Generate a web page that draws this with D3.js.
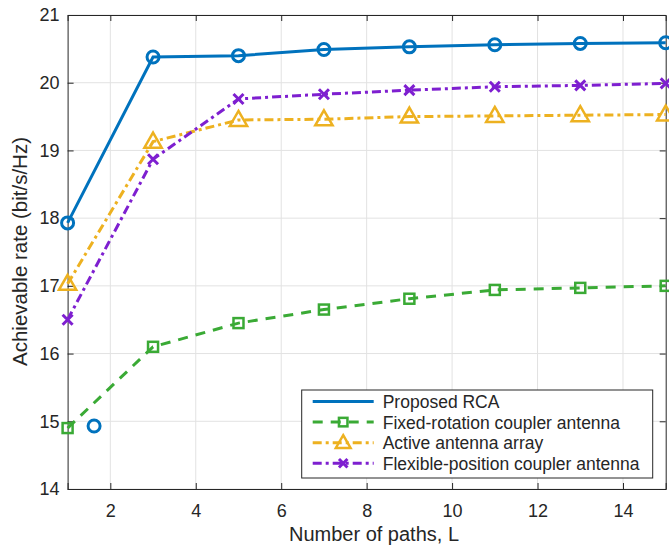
<!DOCTYPE html>
<html>
<head>
<meta charset="utf-8">
<script src="https://cdn.jsdelivr.net/npm/d3@7"></script>
<style>
  body { margin: 0; background: #fff; }
  text { font-family: "Liberation Sans", Arial, sans-serif; fill: #262626; }
</style>
</head>
<body>
<div id="chart"></div>
<script>
var paths = [1, 3, 5, 7, 9, 11, 13, 15];
var proposedRCA = [17.93, 20.38, 20.40, 20.49, 20.53, 20.56, 20.58, 20.59];
var fixedRotation = [14.90, 16.10, 16.45, 16.65, 16.81, 16.94, 16.97, 17.00];
var activeArray = [17.03, 19.13, 19.45, 19.46, 19.50, 19.51, 19.52, 19.53];
var flexiblePosition = [16.50, 18.87, 19.76, 19.83, 19.89, 19.94, 19.96, 19.99];
// stray marker of the first series sitting by itself
var strayPoint = [{x: 1.62, y: 14.93}];
var xTicks = [2, 4, 6, 8, 10, 12, 14];
var yTicks = [14, 15, 16, 17, 18, 19, 20, 21];

var series = [
  {name: "Proposed RCA", values: proposedRCA, color: "#0072BD", dash: null, marker: "circle", legendMarker: false},
  {name: "Fixed-rotation coupler antenna", values: fixedRotation, color: "#3AAA35", dash: "10,8", marker: "square", legendMarker: true},
  {name: "Active antenna array", values: activeArray, color: "#EDB120", dash: "9,4,3,4", marker: "triangle", legendMarker: true},
  {name: "Flexible-position coupler antenna", values: flexiblePosition, color: "#7E1FD0", dash: "9,4,3,4", marker: "cross", legendMarker: true}
];

var w = 669, h = 545;
var margin = {top: 15, right: 3, bottom: 56, left: 67.6};
var width = 665.7 - margin.left;
var height = 489 - margin.top;

var svg = d3.select("#chart").append("svg")
  .attr("width", w)
  .attr("height", h)
  .append("g")
  .attr("transform", "translate(" + margin.left + "," + margin.top + ")");

var x = d3.scaleLinear().domain([1, 15]).range([0, width]);
var y = d3.scaleLinear().domain([14, 21]).range([height, 0]);

// grid
svg.append("g").selectAll("line").data(xTicks).enter().append("line")
  .attr("x1", d => x(d)).attr("x2", d => x(d))
  .attr("y1", 0).attr("y2", height)
  .attr("stroke", "#e2e2e2").attr("stroke-width", 1);
svg.append("g").selectAll("line").data(yTicks).enter().append("line")
  .attr("x1", 0).attr("x2", width)
  .attr("y1", d => y(d)).attr("y2", d => y(d))
  .attr("stroke", "#e2e2e2").attr("stroke-width", 1);

// axes
svg.append("g")
  .attr("transform", "translate(0," + height + ")")
  .call(d3.axisBottom(x).tickValues(xTicks).tickSize(-6).tickPadding(15).tickFormat(d3.format("d")));
svg.append("g")
  .call(d3.axisLeft(y).tickValues(yTicks).tickSize(-6).tickPadding(8).tickFormat(d3.format("d")));
svg.append("g")
  .call(d3.axisTop(x).tickValues(xTicks).tickSize(-6).tickFormat(""));
svg.append("g")
  .attr("transform", "translate(" + width + ",0)")
  .call(d3.axisRight(y).tickValues(yTicks).tickSize(-6).tickFormat(""));
svg.selectAll(".domain").attr("stroke", "#262626").attr("stroke-width", 1);
svg.selectAll(".tick line").attr("stroke", "#262626");
svg.selectAll(".tick text").style("font-size", "18px")
  .style("font-family", "Liberation Sans, Arial, sans-serif").attr("fill", "#262626");

// labels
svg.append("text")
  .attr("x", 374 - margin.left).attr("y", 541 - margin.top)
  .attr("text-anchor", "middle")
  .style("font-size", "20px")
  .text("Number of paths, L");
svg.append("text")
  .attr("transform", "translate(" + (27 - margin.left) + "," + (251.5 - margin.top) + ") rotate(-90)")
  .attr("text-anchor", "middle")
  .style("font-size", "20.5px")
  .text("Achievable rate (bit/s/Hz)");

function drawMarker(g, type, color, cx, cy, sc) {
  sc = sc || 1;
  if (type == "circle") {
    g.append("circle").attr("cx", cx).attr("cy", cy).attr("r", 6 * sc)
      .attr("fill", "none").attr("stroke", color).attr("stroke-width", 3);
  } else if (type == "square") {
    g.append("rect").attr("x", cx - 5 * sc).attr("y", cy - 5 * sc).attr("width", 10 * sc).attr("height", 10 * sc)
      .attr("fill", "none").attr("stroke", color).attr("stroke-width", 2.5);
  } else if (type == "triangle") {
    g.append("path").attr("d", d3.symbol().type(d3.symbolTriangle).size(130 * sc * sc)())
      .attr("transform", "translate(" + cx + "," + (cy + 1) + ")")
      .attr("fill", "none").attr("stroke", color).attr("stroke-width", 2.5);
  } else {
    g.append("path").attr("d", "M-5,-5L5,5M-5,5L5,-5")
      .attr("transform", "translate(" + cx + "," + cy + ") scale(" + sc + ")")
      .attr("fill", "none").attr("stroke", color).attr("stroke-width", 3 / sc);
  }
}

var line = d3.line().x(d => x(d[0])).y(d => y(d[1]));

series.forEach(function (s) {
  var pts = paths.map((p, i) => [p, s.values[i]]);
  var g = svg.append("g");
  g.append("path").datum(pts)
    .attr("d", line)
    .attr("fill", "none")
    .attr("stroke", s.color)
    .attr("stroke-width", 3)
    .attr("stroke-dasharray", s.dash);
  pts.forEach(function (p) { drawMarker(g, s.marker, s.color, x(p[0]), y(p[1])); });
});

strayPoint.forEach(function (p) {
  drawMarker(svg, "circle", "#0072BD", x(p.x), y(p.y));
});

// legend
var lg = svg.append("g").attr("transform", "translate(" + (301.7 - margin.left) + "," + (390 - margin.top) + ")");
lg.append("rect").attr("width", 351).attr("height", 88)
  .attr("fill", "#fff").attr("stroke", "#262626").attr("stroke-width", 1);
series.forEach(function (s, i) {
  var ry = 11.5 + i * 20.6;
  lg.append("line").attr("x1", 11).attr("x2", 72).attr("y1", ry).attr("y2", ry)
    .attr("stroke", s.color).attr("stroke-width", 3).attr("stroke-dasharray", s.dash);
  if (s.legendMarker) drawMarker(lg, s.marker, s.color, 41.5, ry, 0.85);
  lg.append("text").attr("x", 81).attr("y", ry + 6.5)
    .style("font-size", "17.5px").text(s.name);
});
</script>
</body>
</html>
